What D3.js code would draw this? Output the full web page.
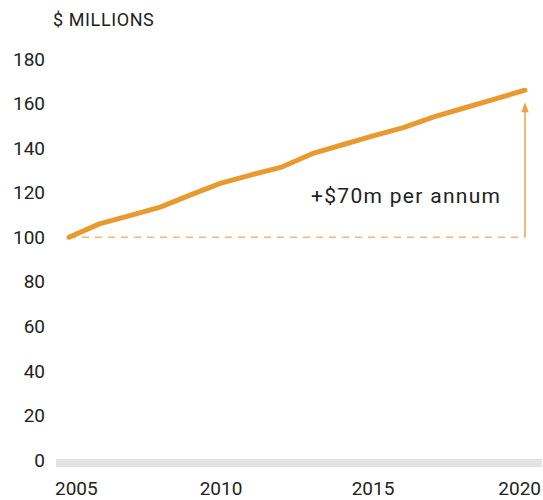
<!DOCTYPE html>
<html>
<head>
<meta charset="utf-8">
<script src="https://cdn.jsdelivr.net/npm/d3@7"></script>
<style>
  html, body { margin: 0; padding: 0; background: #fff; }
  svg { display: block; font-family: Roboto, "Liberation Sans", Arial, sans-serif; }
</style>
</head>
<body>
<svg id="chart" width="543" height="500"></svg>
<script>
// Annual revenue, $ millions
const years  = [2005, 2006, 2007, 2008, 2009, 2010, 2011, 2012, 2013, 2014, 2015, 2016, 2017, 2018, 2019, 2020];
const values = [100, 106, 109.7, 113.5, 119, 124.3, 128, 131.5, 137.5, 141.5, 145.5, 149.2, 154, 158, 162, 166];

const yTicks = [0, 20, 40, 60, 80, 100, 120, 140, 160, 180];
const xTicks = [2005, 2010, 2015, 2020];
const unitLabel = "$ MILLIONS";
const annotation = "+$70m per annum";
const baseValue = 100;

const orange = "#e89a2f";
const ink = "#222";

const svg = d3.select("#chart");

const x = d3.scaleLinear().domain([2005, 2020]).range([69, 525]);
const y = d3.scaleLinear().domain([0, 180]).range([460, 59]);

// unit label
svg.append("text")
  .attr("x", 53).attr("y", 26)
  .attr("font-size", 18).attr("letter-spacing", 0.6).attr("fill", ink)
  .text(unitLabel);

// grey baseline band
svg.append("rect")
  .attr("x", 56).attr("y", y(0) - 1)
  .attr("width", 542 - 56).attr("height", 8)
  .attr("fill", "#e3e3e3");

// y tick labels
svg.append("g").selectAll("text")
  .data(yTicks).join("text")
  .attr("x", 45).attr("y", d => y(d))
  .attr("dy", "0.35em")
  .attr("text-anchor", "end")
  .attr("font-size", 19).attr("fill", ink)
  .text(d => d);

// x tick labels (outer ones kept inside the plot edges)
svg.append("g").selectAll("text")
  .data(xTicks).join("text")
  .attr("x", (d, i) => i === 0 ? 55 : i === xTicks.length - 1 ? 541 : x(d))
  .attr("y", 495)
  .attr("text-anchor", (d, i) => i === 0 ? "start" : i === xTicks.length - 1 ? "end" : "middle")
  .attr("font-size", 19).attr("fill", ink)
  .text(d => d);

// dashed reference at the starting level
const lastYear = years[years.length - 1];
svg.append("line")
  .attr("x1", x(years[0])).attr("x2", x(lastYear))
  .attr("y1", y(baseValue)).attr("y2", y(baseValue))
  .attr("stroke", "#f0b874").attr("stroke-width", 1.5)
  .attr("stroke-dasharray", "7,6");

// arrow showing the increase
const tipY = y(values[values.length - 1]) + 12;
svg.append("line")
  .attr("x1", x(lastYear)).attr("x2", x(lastYear))
  .attr("y1", y(baseValue)).attr("y2", tipY + 8)
  .attr("stroke", "#eaa24a").attr("stroke-width", 1.5);
svg.append("path")
  .attr("d", `M${x(lastYear)},${tipY} L${x(lastYear) - 3.8},${tipY + 10} L${x(lastYear) + 3.8},${tipY + 10} Z`)
  .attr("fill", "#eaa24a");

svg.append("text")
  .attr("x", 311).attr("y", 203)
  .attr("font-size", 21).attr("letter-spacing", 1.3).attr("fill", ink)
  .text(annotation);

// revenue line
const line = d3.line()
  .x((d, i) => x(years[i]))
  .y(d => y(d));

svg.append("path")
  .datum(values)
  .attr("d", line)
  .attr("fill", "none")
  .attr("stroke", orange)
  .attr("stroke-width", 5)
  .attr("stroke-linecap", "round")
  .attr("stroke-linejoin", "round");
</script>
</body>
</html>
